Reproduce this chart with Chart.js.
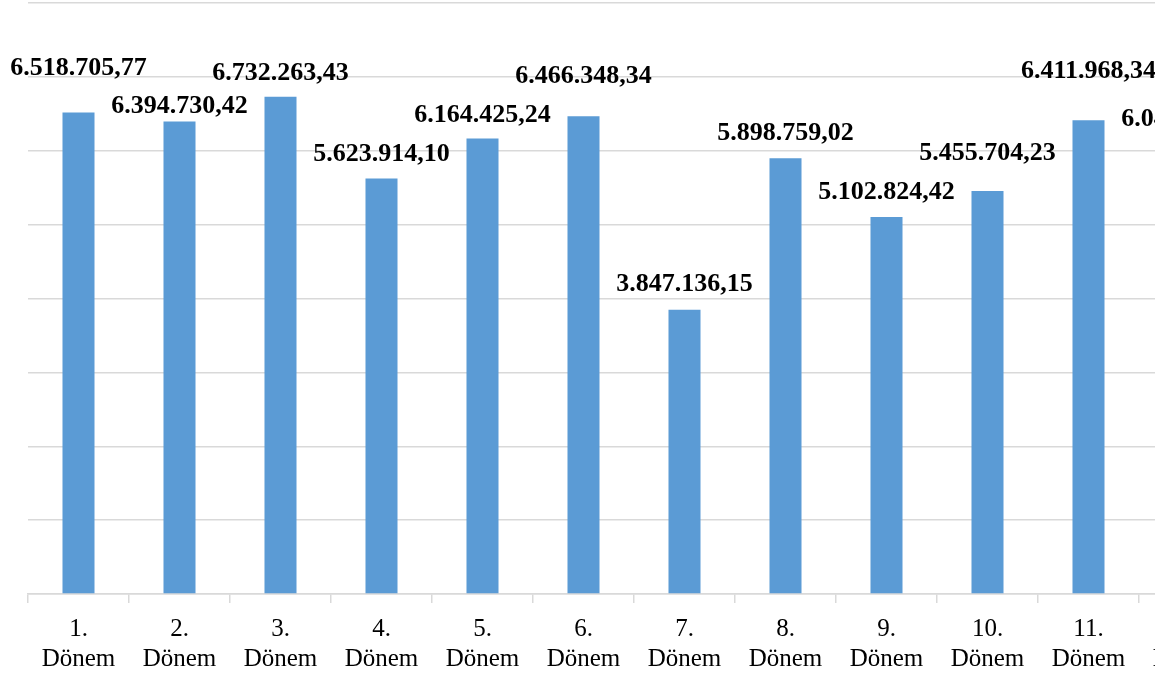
<!DOCTYPE html>
<html>
<head>
<meta charset="utf-8">
<script src="https://cdn.jsdelivr.net/npm/chart.js@4"></script>
<style>
    html, body { margin: 0; padding: 0; background: #ffffff; }
    #clip { position: absolute; left: 0; top: 0; width: 1155px; height: 676px; overflow: hidden; }
    #wrap { width: 1250px; height: 676px; }
</style>
</head>
<body>
<div id="clip"><div id="wrap"><canvas id="periodChart"></canvas></div></div>
<script>
// Period totals (Dönem)
const periods = ['1.', '2.', '3.', '4.', '5.', '6.', '7.', '8.', '9.', '10.', '11.', '12.'];
const totals = [
    6518705.77, 6394730.42, 6732263.43, 5623914.10, 6164425.24, 6466348.34,
    3847136.15, 5898759.02, 5102824.42, 5455704.23, 6411968.34, 6048000.00
];
const yTicks = [0, 1000000, 2000000, 3000000, 4000000, 5000000, 6000000, 7000000, 8000000];

// how far above each bar top the value label sits (px, to the digit centre)
const labelLift = [46, 18, 26, 27, 26, 42, 28, 27, 27, 40, 51, 30];

function formatTr(value) {
    const parts = value.toFixed(2).split('.');
    const whole = parts[0].replace(/\B(?=(\d{3})+(?!\d))/g, '.');
    return whole + ',' + parts[1];
}

const valueLabels = {
    id: 'valueLabels',
    afterDatasetsDraw(chart) {
        const ctx = chart.ctx;
        const meta = chart.getDatasetMeta(0);
        ctx.save();
        ctx.font = 'bold 26px "Liberation Serif"';
        ctx.fillStyle = '#000000';
        ctx.textAlign = 'center';
        ctx.textBaseline = 'alphabetic';
        meta.data.forEach((bar, i) => {
            const y = bar.y - labelLift[i] + 9;
            ctx.fillText(formatTr(totals[i]), bar.x, y);
        });
        ctx.restore();
    }
};

const ctx = document.getElementById('periodChart').getContext('2d');
new Chart(ctx, {
    type: 'bar',
    data: {
        labels: periods.map(p => [p, 'Dönem']),
        datasets: [{
            data: totals,
            backgroundColor: '#5b9bd5',
            borderWidth: 0,
            categoryPercentage: 1,
            barPercentage: 0.317
        }]
    },
    options: {
        responsive: true,
        maintainAspectRatio: false,
        animation: false,
        layout: {
            padding: { left: 28, right: 10, top: 3, bottom: 0 }
        },
        plugins: {
            legend: { display: false },
            tooltip: { enabled: false }
        },
        scales: {
            y: {
                min: 0,
                max: 8000000,
                afterBuildTicks: axis => { axis.ticks = yTicks.map(v => ({ value: v })); },
                ticks: { display: false },
                border: { display: false },
                grid: { color: '#d9d9d9', lineWidth: 1.5, drawTicks: false }
            },
            x: {
                afterFit: axis => { axis.height = 82; },
                border: { color: '#d9d9d9', width: 1.5 },
                grid: { color: '#d9d9d9', lineWidth: 1.5, drawOnChartArea: false, tickLength: 9 },
                ticks: {
                    color: '#000000',
                    padding: 11,
                    maxRotation: 0,
                    autoSkip: false,
                    font: { family: '"Liberation Serif"', size: 25, lineHeight: 1.2 }
                }
            }
        }
    },
    plugins: [valueLabels]
});
</script>
</body>
</html>
